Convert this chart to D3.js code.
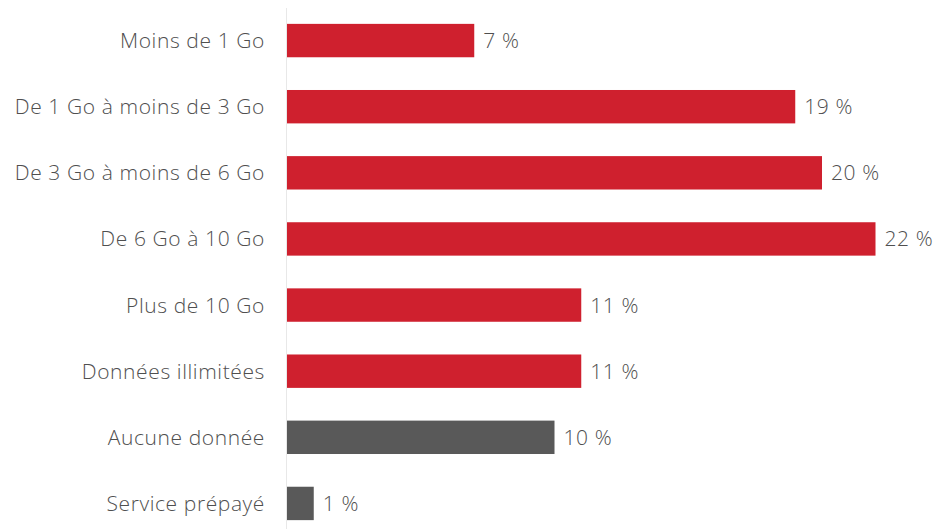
<!DOCTYPE html>
<html>
<head>
<meta charset="utf-8">
<script src="https://cdn.jsdelivr.net/npm/d3@7/dist/d3.min.js"></script>
<style>
  html, body { margin: 0; padding: 0; background: #fff; }
  svg { display: block; }
  text { font-family: "Open Sans", "Liberation Sans", sans-serif; font-weight: 300; letter-spacing: 0.6px; }
</style>
</head>
<body>
<svg id="chart" width="939" height="529"></svg>
<script>
// Forfaits de données mobiles : part des répondants (%)
const categories = [
  "Moins de 1 Go",
  "De 1 Go à moins de 3 Go",
  "De 3 Go à moins de 6 Go",
  "De 6 Go à 10 Go",
  "Plus de 10 Go",
  "Données illimitées",
  "Aucune donnée",
  "Service prépayé"
];
const values = [7, 19, 20, 22, 11, 11, 10, 1];
const groups = ["plan", "plan", "plan", "plan", "plan", "plan", "other", "other"];

const colors = { plan: "#cf202e", other: "#595959" };

const width = 939, height = 529;
const margin = { top: 8, right: 63, bottom: 0, left: 287 };

const svg = d3.select("#chart");

const x = d3.scaleLinear()
  .domain([0, 22])
  .range([margin.left, margin.left + 588.5]);

const y = d3.scaleBand()
  .domain(categories)
  .range([margin.top, height - margin.bottom + 7])
  .paddingInner(0.495)
  .paddingOuter(0.24);

// baseline
svg.append("line")
  .attr("x1", margin.left - 0.5).attr("x2", margin.left - 0.5)
  .attr("y1", margin.top).attr("y2", height)
  .attr("stroke", "#e8e8e8").attr("stroke-width", 1);

const rows = categories.map((c, i) => ({ cat: c, value: values[i], group: groups[i] }));

svg.append("g").selectAll("rect")
  .data(rows)
  .join("rect")
  .attr("x", x(0))
  .attr("y", d => y(d.cat))
  .attr("width", d => x(d.value) - x(0))
  .attr("height", y.bandwidth())
  .attr("fill", d => colors[d.group]);

// category labels
svg.append("g").selectAll("text")
  .data(rows)
  .join("text")
  .attr("x", margin.left - 22)
  .attr("y", d => y(d.cat) + y.bandwidth() / 2)
  .attr("dy", "0.36em")
  .attr("text-anchor", "end")
  .attr("font-size", 21)
  .attr("fill", "#4f4f4f")
  .text(d => d.cat);

// value labels
svg.append("g").selectAll("text")
  .data(rows)
  .join("text")
  .attr("x", d => x(d.value) + 9)
  .attr("y", d => y(d.cat) + y.bandwidth() / 2)
  .attr("dy", "0.36em")
  .attr("font-size", 21)
  .attr("fill", "#4f4f4f")
  .text(d => d.value + " %");
</script>
</body>
</html>
